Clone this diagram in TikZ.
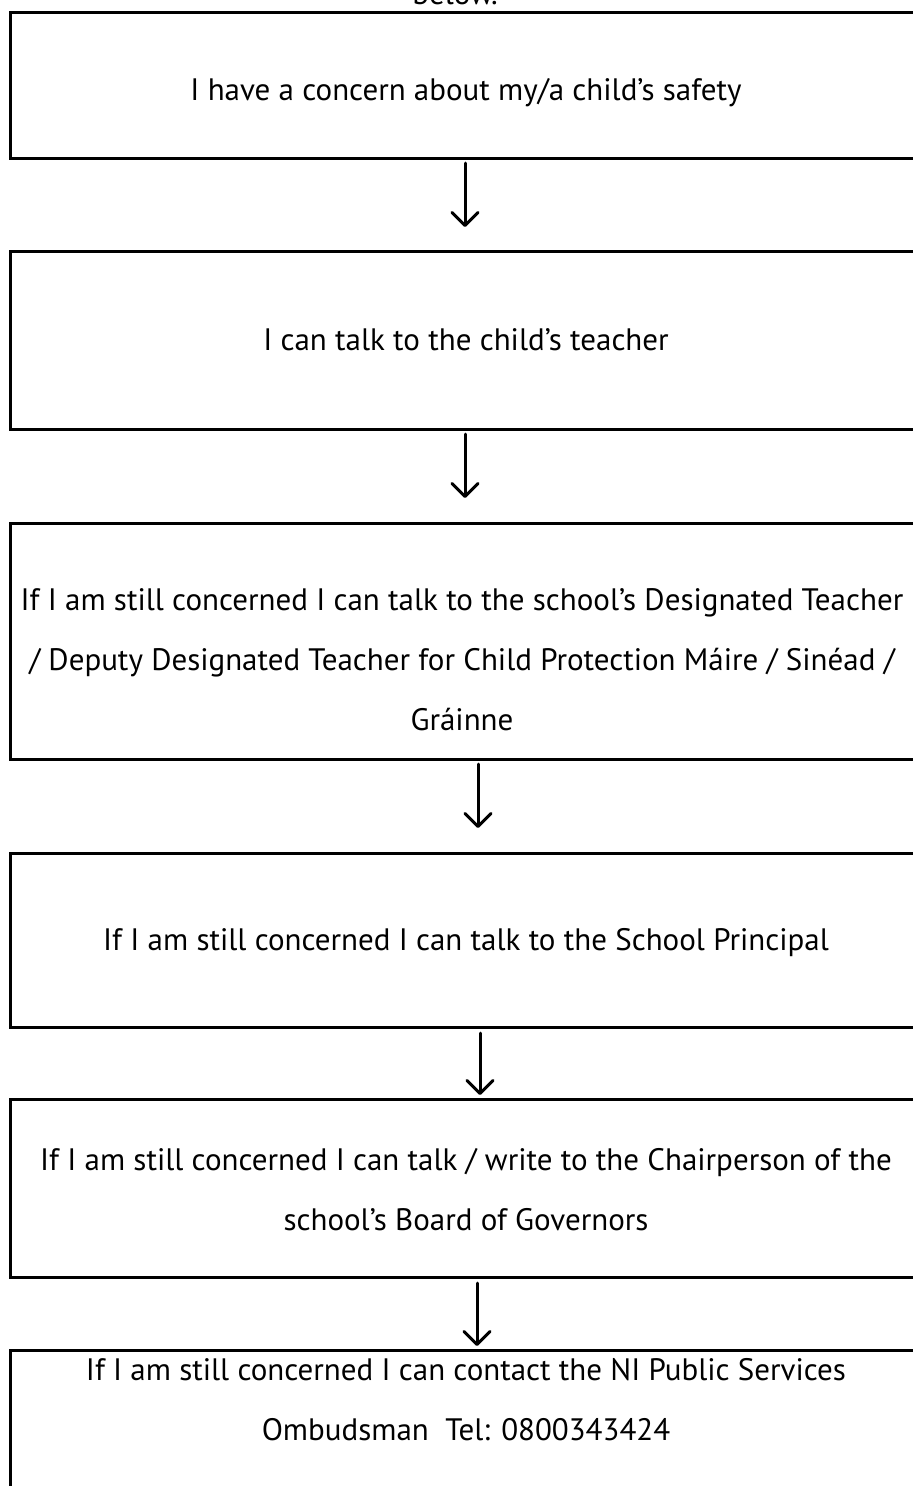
\documentclass[tikz,border=0pt]{standalone}
\usepackage{fontspec}
\setmainfont{PT Sans}
\usetikzlibrary{arrows.meta}
\begin{document}
\begin{tikzpicture}[x=1pt,y=-1pt,
  box/.style={draw,line width=3pt,anchor=north west,inner sep=0pt,outer sep=0pt,minimum width=912pt},
  txt/.style={font=\fontsize{31}{60}\selectfont,align=center,inner sep=0pt},
  arr/.style={line width=3pt,line cap=round,-{Straight Barb[length=13pt,width=26pt,line width=3pt,round]}}]
\useasboundingbox (0,0) rectangle (913,1486);
\node[txt,anchor=base] (top) at (455,4) {below.};
\node[box,minimum height=146pt] (b1) at (10,12) {};
\node[box,minimum height=178pt] (b2) at (10,251) {};
\node[box,minimum height=236pt] (b3) at (10,523) {};
\node[box,minimum height=174pt] (b4) at (10,853) {};
\node[box,minimum height=178pt] (b5) at (10,1099) {};
\node[box,minimum height=220pt] (b6) at (10,1350) {};
\node[txt,anchor=base] (t1) at (466,100) {I have a concern about my/a child’s safety};
\node[txt,anchor=base] (t2) at (466,350) {I can talk to the child’s teacher};
\node[txt] (t3) at (462,660) {If I am still concerned I can talk to the school’s Designated Teacher\\/ Deputy Designated Teacher for Child Protection Máire / Sinéad /\\Gráinne};
\node[txt,anchor=base] (t4) at (466,950) {If I am still concerned I can talk to the School Principal};
\node[txt] (t5) at (466,1190) {If I am still concerned I can talk / write to the Chairperson of the\\school’s Board of Governors};
\node[txt] (t6) at (466,1400) {If I am still concerned I can contact the NI Public Services\\Ombudsman~~Tel: 0800343424};
\draw[arr,shorten <=5pt,shorten >=24pt] ([xshift=-1pt]b1.south) -- ([xshift=-1pt]b2.north);
\draw[arr,shorten <=5pt,shorten >=25pt] ([xshift=-1pt]b2.south) -- ([xshift=-1pt]b3.north);
\draw[arr,shorten <=5pt,shorten >=25pt] ([xshift=12pt]b3.south) -- ([xshift=12pt]b4.north);
\draw[arr,shorten <=6pt,shorten >=4pt] ([xshift=14pt]b4.south) -- ([xshift=14pt]b5.north);
\draw[arr,shorten <=6pt,shorten >=4pt] ([xshift=11pt]b5.south) -- ([xshift=11pt]b6.north);
\end{tikzpicture}
\end{document}
